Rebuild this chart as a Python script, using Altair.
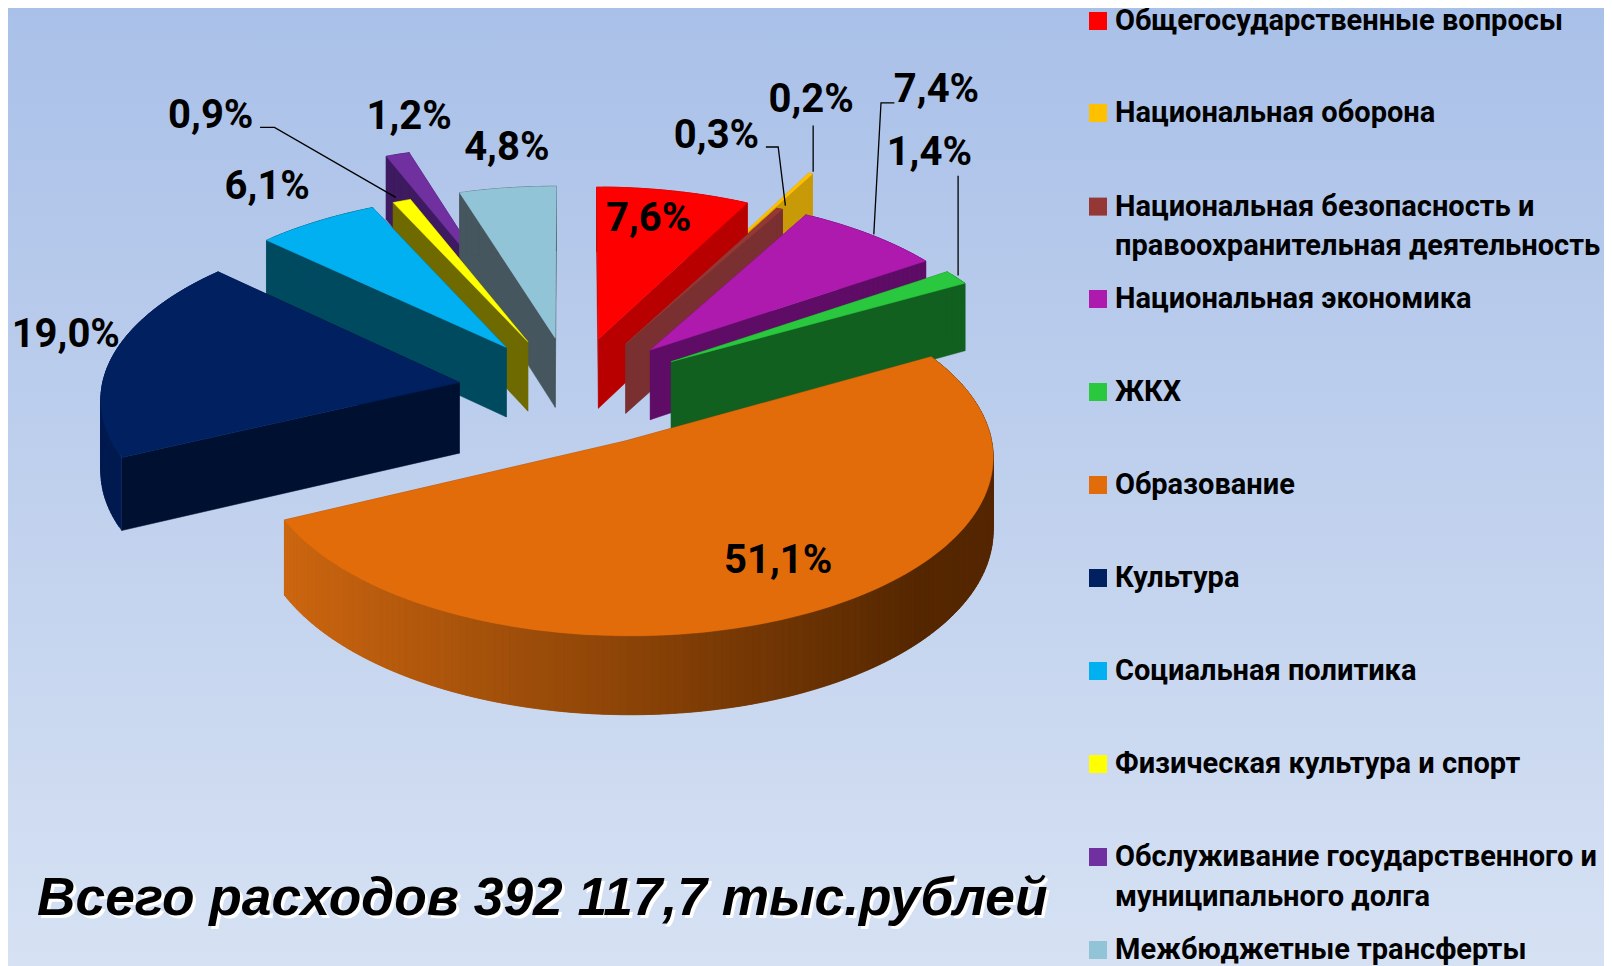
import math
import altair as alt

categories = ["Общегосударственные вопросы", "Национальная оборона",
              "Национальная безопасность и|правоохранительная деятельность",
              "Национальная экономика", "ЖКХ", "Образование", "Культура",
              "Социальная политика", "Физическая культура и спорт",
              "Обслуживание государственного и|муниципального долга",
              "Межбюджетные трансферты"]
values = [7.6, 0.2, 0.3, 7.4, 1.4, 51.1, 19.0, 6.1, 0.9, 1.2, 4.8]
value_labels = ["7,6%", "0,2%", "0,3%", "7,4%", "1,4%", "51,1%", "19,0%", "6,1%", "0,9%", "1,2%", "4,8%"]
explode = [0.32, 0.59, 0.32, 0.33, 0.33, 0.32, 0.32, 0.32, 0.32, 0.64, 0.32]
top_colors = ["#FF0000", "#FFC000", "#953735", "#AE1AAE", "#2AC83F", "#E36C0A",
              "#002060", "#00B0F0", "#FFFF00", "#7030A0", "#92C4D8"]
wall_colors = ["#B80000", "#C89A08", "#7A3030", "#5E0C66", "#126020", "#8A4506",
               "#001030", "#004A60", "#6F6A00", "#3E1A60", "#46565E"]
title_text = "Всего расходов 392 117,7 тыс.рублей"

W, H = 1596, 958
CX, CY = 564, 383
A, B = 358, 171.5
K, DEPTH = 0.078, 71


def project(X, Y, z=0.0):
    s = 1 / (1 - K * Y)
    return [CX + A * X * s, CY + B * Y * s + z * s]


def hex_mix(c1, c2, t):
    a = [int(c1[i:i + 2], 16) for i in (1, 3, 5)]
    b = [int(c2[i:i + 2], 16) for i in (1, 3, 5)]
    return "#%02x%02x%02x" % tuple(round(p + (q - p) * t) for p, q in zip(a, b))


def feature(ring, color):
    return {"type": "Feature", "properties": {"color": color},
            "geometry": {"type": "Polygon", "coordinates": [ring + [ring[0]]]}}


slices = []
cum = 0.0
for i, v in enumerate(values):
    slices.append((i, cum / 100 * 2 * math.pi, (cum + v) / 100 * 2 * math.pi))
    cum += v


def mid_offset(i, t0, t1):
    m = (t0 + t1) / 2
    return explode[i] * math.sin(m), -explode[i] * math.cos(m)


features = []
for i, t0, t1 in sorted(slices, key=lambda s: mid_offset(*s)[1]):
    ox, oy = mid_offset(i, t0, t1)
    n = max(2, int((t1 - t0) / 0.02))
    ts = [t0 + (t1 - t0) * j / n for j in range(n + 1)]
    rim = [(ox + math.sin(t), oy - math.cos(t)) for t in ts]
    wall = wall_colors[i]
    for edge in (rim[0], rim[-1]):
        features.append(feature([project(ox, oy), project(*edge), project(*edge, DEPTH), project(ox, oy, DEPTH)], wall))
    for j in range(n):
        p, q = rim[j], rim[min(j + 2, n)]
        if i == 5:
            frac = max(0.0, min(1.0, (p[0] + 0.75) / 1.65))
            col = hex_mix("#CC6610", "#552700", frac)
        elif i == 6:
            col = "#001B50"
        else:
            col = wall
        features.append(feature([project(*p), project(*q), project(*q, DEPTH), project(*p, DEPTH)], col))
    features.append(feature([project(ox, oy)] + [project(*p) for p in rim], top_colors[i]))

bg = alt.Chart(alt.Data(values=[{"a": 1}])).mark_rect(
    color=alt.Gradient(gradient="linear", x1=0, x2=0, y1=0, y2=1,
                       stops=[alt.GradientStop(color="#A9C0E8", offset=0),
                              alt.GradientStop(color="#D6E1F3", offset=1)])
).encode(x=alt.value(0), x2=alt.value(W), y=alt.value(0), y2=alt.value(H))

pie = alt.Chart(alt.Data(values=features)).mark_geoshape(strokeWidth=0.5).encode(
    fill=alt.Fill("properties.color:N", scale=None),
    stroke=alt.Stroke("properties.color:N", scale=None),
).project(type="identity", scale=1, translate=[0, 0])

xs = alt.Scale(domain=[0, W], range=[0, W])
ys = alt.Scale(domain=[0, H], range=[0, H])
XE = alt.X("x:Q", scale=xs, axis=None)
YE = alt.Y("y:Q", scale=ys, axis=None)

SH = 1.028
label_at = [(631, 213), (789, 97), (697, 132), (911, 88), (904, 149), (757, 546),
            (64, 326), (260, 182), (205, 113), (398, 114), (493, 144)]
labels = [{"x": px * SH - 8, "y": py * SH - 8, "t": t} for (px, py), t in zip(label_at, value_labels)]
label_layer = alt.Chart(alt.Data(values=labels)).mark_text(
    font="Roboto", fontWeight="bold", fontSize=40, color="#000000", align="center", baseline="middle"
).encode(x=XE, y=YE, text="t:N")

leaders_at = [[(253, 124), (267, 124), (385, 192)], [(745, 143), (757, 143), (764, 200)],
              [(791, 122), (791, 167)], [(870, 100), (857, 100), (850, 228)], [(932, 171), (932, 268)]]
leader_rows = [{"x": px * SH - 8, "y": py * SH - 8, "k": n, "o": m}
               for n, line in enumerate(leaders_at) for m, (px, py) in enumerate(line)]
leader_layer = alt.Chart(alt.Data(values=leader_rows)).mark_line(color="#000000", strokeWidth=1.3).encode(
    x=XE, y=YE, detail="k:N", order="o:Q")

legend_y = [21, 113, 206.6, 299, 392, 485, 578, 671, 764, 857, 950]
sq = [{"x": 1098 - 8, "y": y - 8, "c": c} for y, c in zip(legend_y, top_colors)]
sq_layer = alt.Chart(alt.Data(values=sq)).mark_square(size=324, opacity=1).encode(
    x=XE, y=YE, fill=alt.Fill("c:N", scale=None))
leg_rows = []
for y, cat in zip(legend_y, categories):
    for n, part in enumerate(cat.split("|")):
        leg_rows.append({"x": 1115 - 8, "y": y - 8 + n * 39.5, "t": part})
leg_layer = alt.Chart(alt.Data(values=leg_rows)).mark_text(
    font="Roboto", fontWeight="bold", fontSize=29, color="#000000", align="left", baseline="middle"
).encode(x=XE, y=YE, text="t:N")

title_rows = [{"x": 37 - 8, "y": 915 - 8, "t": title_text}]
title_shadow = alt.Chart(alt.Data(values=[{"x": r["x"] + 3, "y": r["y"] + 3, "t": r["t"]} for r in title_rows])).mark_text(
    font="Liberation Sans", fontWeight="bold", fontStyle="italic", fontSize=53.3, color="#FFFFFF", align="left", baseline="alphabetic"
).encode(x=XE, y=YE, text="t:N")
title_layer = alt.Chart(alt.Data(values=title_rows)).mark_text(
    font="Liberation Sans", fontWeight="bold", fontStyle="italic", fontSize=53.3, color="#000000", align="left", baseline="alphabetic"
).encode(x=XE, y=YE, text="t:N")

chart = alt.layer(bg, pie, leader_layer, label_layer, sq_layer, leg_layer, title_shadow, title_layer).properties(
    width=W, height=H, padding=0, autosize=alt.AutoSizeParams(type="none")
).configure_view(stroke=None)

chart.save("out.html", embed_options={"renderer": "svg", "actions": False})
